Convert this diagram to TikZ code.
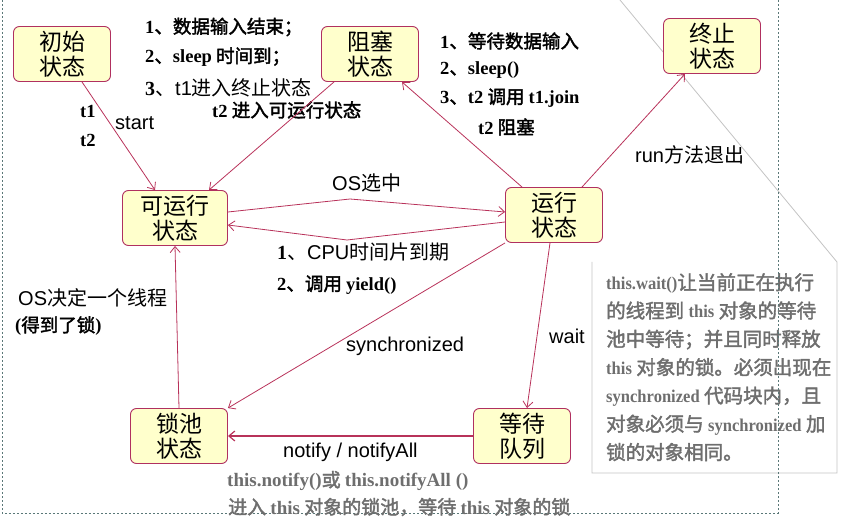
\documentclass[tikz,border=0pt]{standalone}
\usepackage{fontspec}
\setmainfont{Noto Sans CJK SC}[AutoFakeBold=2]
\newfontfamily\arl{Liberation Sans}
\newfontfamily\tnr{Liberation Serif}
\newfontfamily\tnrn{Liberation Serif}[FakeStretch=0.92]
\usetikzlibrary{arrows.meta}
\definecolor{statefill}{RGB}{255,255,204}
\definecolor{stateline}{RGB}{176,48,96}
\definecolor{flowcolor}{RGB}{184,50,90}
\definecolor{notegray}{RGB}{110,110,110}
\definecolor{framegray}{RGB}{195,195,195}
\definecolor{dashcolor}{RGB}{90,120,120}
\newcommand{\srb}[1]{{\tnr\bfseries #1}}
\newcommand{\nsrb}[1]{{\tnrn\bfseries\fontsize{18}{28.3}\selectfont #1}}

\begin{document}
\begin{tikzpicture}[x=1pt,y=-1pt,
    state/.style={draw=stateline, fill=statefill, rounded corners=6pt, line width=0.9pt,
      minimum width=97pt, minimum height=55pt, inner sep=0pt, align=center,
      font=\fontsize{23}{25}\selectfont},
    lbl/.style={anchor=west, inner sep=0pt, font=\fontsize{20}{24}\selectfont},
    blbl/.style={anchor=west, inner sep=0pt, font=\fontsize{18.5}{22}\selectfont\bfseries},
    notetext/.style={inner sep=0pt, align=left, text=notegray,
      font=\fontsize{19.5}{28.3}\selectfont\bfseries},
    flow/.style={draw=flowcolor, line width=0.8pt, -{Straight Barb[length=6pt,width=10pt]}}]
  \useasboundingbox (0,0) rectangle (846,529);

  % note sheet
  \draw[framegray, line width=0.8pt] (592,262) -- (592,473) -- (837,473) -- (837,262) -- (620,0);
  \node[notetext, anchor=north west] (waitnote) at (606,273)
    {\nsrb{this.wait()}让当前正在执行\\的线程到 \nsrb{this} 对象的等待\\池中等待；并且同时释放\\\nsrb{this} 对象的锁。必须出现在\\\nsrb{synchronized} 代码块内，且\\对象必须与 \nsrb{synchronized} 加\\锁的对象相同。};

  % frame
  \draw[dashcolor, line width=0.7pt, dash pattern=on 2pt off 2pt] (2,0) -- (2,513) -- (778,513) -- (778,0);

  % states
  \node[state] (init) at (62,54) {初始\\状态};
  \node[state] (blocked) at (370,54) {阻塞\\状态};
  \node[state] (dead) at (712,46) {终止\\状态};
  \node[state, minimum width=105pt] (ready) at (175,218) {可运行\\状态};
  \node[state] (running) at (554,215) {运行\\状态};
  \node[state] (lockpool) at (179,436) {锁池\\状态};
  \node[state] (waitq) at (522,436) {等待\\队列};

  % labels
  \node[blbl] (endinput) at (145,27) {\srb{1}、数据输入结束；};
  \node[blbl] (sleepover) at (145,57) {\srb{2}、\srb{sleep} 时间到；};
  \node[lbl] (t1dead) at (145,88) {\srb{3}、{\arl t1}进入终止状态};
  \node[blbl] (t2ready) at (212,110) {\srb{t2} 进入可运行状态};
  \node[blbl] (tone) at (80,111) {\srb{t1}};
  \node[blbl] (ttwo) at (80,140) {\srb{t2}};
  \node[lbl] (start) at (115,123) {\arl start};
  \node[blbl] (waitinput) at (440,41) {\srb{1}、等待数据输入};
  \node[blbl] (sleepcall) at (440,70) {\srb{2}、\srb{sleep()}};
  \node[blbl] (joincall) at (440,98) {\srb{3}、\srb{t2} 调用 \srb{t1.join}};
  \node[blbl] (t2block) at (478,127) {\srb{t2} 阻塞};
  \node[lbl] (runexit) at (635,155) {{\arl run}方法退出};
  \node[lbl] (osselect) at (332,183) {{\arl OS}选中};
  \node[lbl] (timeslice) at (277,252) {\srb{1}、{\arl CPU}时间片到期};
  \node[blbl] (yieldcall) at (277,285) {\srb{2}、调用 \srb{yield()}};
  \node[lbl] (osdecide) at (18,298) {{\arl OS}决定一个线程};
  \node[blbl] (gotlock) at (15,326) {\srb{(}得到了锁\srb{)}};
  \node[lbl] (sync) at (346,346) {\arl synchronized};
  \node[lbl] (waitlbl) at (549,336) {\arl wait};
  \node[lbl] (notifylbl) at (283,452) {\arl notify / notifyAll};
  \node[notetext, anchor=west, font=\fontsize{19}{22}\selectfont\bfseries] (notifycall) at (227,481)
    {\srb{this.notify()}或 \srb{this.notifyAll ()}};
  \node[notetext, anchor=west, font=\fontsize{19}{22}\selectfont\bfseries] (enterpool) at (228,507)
    {进入 \srb{this} 对象的锁池，等待 \srb{this} 对象的锁};

  % bends of the two runnable/running arrows
  \coordinate (upbend) at (350,199);
  \coordinate (lowbend) at (347,240);

  % arrows
  \draw[flow] ([xshift=20pt]init.south) -- ([xshift=-20pt]ready.north);
  \draw[flow] ([xshift=-36pt]blocked.south) -- ([xshift=34pt]ready.north);
  \draw[flow] ([yshift=6pt]ready.east) -- (upbend) -- ([yshift=3pt]running.west);
  \draw[flow] ([yshift=-7pt]running.west) -- (lowbend) -- ([yshift=-7pt]ready.east);
  \draw[flow] ([xshift=-32pt]running.north) -- ([xshift=32pt]blocked.south);
  \draw[flow] ([xshift=28pt]running.north) -- ([xshift=-27pt]dead.south);
  \draw[flow] (running.south west) -- (lockpool.north east);
  \draw[flow] ([xshift=-4pt]running.south) -- ([xshift=5pt]waitq.north);
  \draw[flow, line width=1.2pt] (waitq.west) -- (lockpool.east);
  \draw[flow] (lockpool.north) -- (ready.south);
\end{tikzpicture}
\end{document}
